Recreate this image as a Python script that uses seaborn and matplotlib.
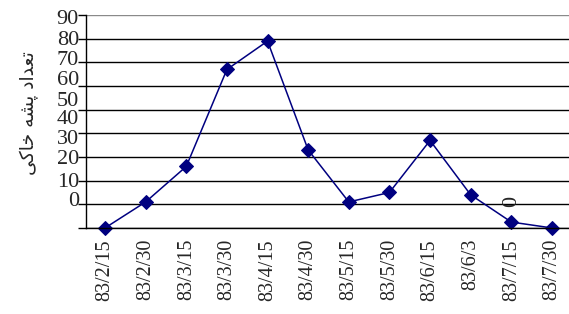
import matplotlib
matplotlib.use("Agg")
import matplotlib.pyplot as plt
import seaborn as sns
import pandas as pd
import numpy as np

# dates (tick labels) and sandfly counts
dates = ['83/2/15', '83/2/30', '83/3/15', '83/3/30', '83/4/15', '83/4/30',
         '83/5/15', '83/5/30', '83/6/15', '83/6/3', '83/7/15', '83/7/30']
counts = [0, 11, 26, 67, 79, 33, 11, 15, 37, 14, 2.5, 0]

# y labels as printed in the original (they sit off the grid lines)
ytick_labels = ['90', '80', '70', '60', '50', '40', '30', '20', '10', '0']
ytick_label_pos = [89.2, 80.3, 71.8, 63.4, 54.5, 46.9, 38.5, 30.0, 20.3, 12.3]
grid_values = [0, 10, 20, 30, 40, 50, 60, 70, 80, 90]

# "تعداد پشه خاکی" in shaped presentation forms, visual order (no bidi in mpl)
ylabel_forms = ['\uFE97', '\uFECC', '\uFEAA', '\u0627', '\uFEA9', ' ',
                '\uFB58', '\uFEB8', '\uFEEA', ' ',
                '\uFEA7', '\uFE8E', '\uFB90', '\uFBFD']
ylabel = ''.join(reversed(ylabel_forms))

df = pd.DataFrame({'date': dates, 'count': counts})

sns.set_style('white')
plt.rcParams['font.family'] = ['Liberation Serif', 'DejaVu Sans']

fig = plt.figure(figsize=(5.69, 3.14), dpi=100)
ax = fig.add_axes([0.151, 0.274, 0.849, 0.678])

sns.lineplot(data=df, x='date', y='count', sort=False, ax=ax,
             color='#000080', linewidth=1.1, marker='D', markersize=7,
             markeredgecolor='#000080', clip_on=False)

ax.set_xlim(-0.47, 11.42)
ax.set_ylim(0, 90)

# grid lines at the real values, labels where the original put them
ax.yaxis.remove_overlapping_locs = False
ax.set_yticks(grid_values)
ax.set_yticklabels([])
ax.set_yticks(ytick_label_pos, minor=True)
ax.set_yticklabels(ytick_labels, minor=True, fontsize=16)
ax.tick_params(axis='y', which='major', length=6, width=1, color='black',
               direction='out', left=True)
ax.tick_params(axis='y', which='minor', length=0, pad=5)
ax.yaxis.grid(True, which='major', color='black', linewidth=1)
ax.yaxis.get_gridlines()[-1].set_color('#8a8a8a')

ax.tick_params(axis='x', length=0, pad=8, labelsize=14.5, labelrotation=90)

for s in ['top', 'right']:
    ax.spines[s].set_visible(False)
for s in ['left', 'bottom']:
    ax.spines[s].set_color('black')
    ax.spines[s].set_linewidth(1)

ax.set_xlabel('')
ax.set_ylabel(ylabel, family=['DejaVu Sans'], fontsize=13.5)
ax.yaxis.set_label_coords(-0.097, 0.54)

# stray rotated zero label from the original
ax.text(10, 11.4, '0', rotation=90, ha='center', va='center', fontsize=16)

fig.savefig('out.png', dpi=100)
